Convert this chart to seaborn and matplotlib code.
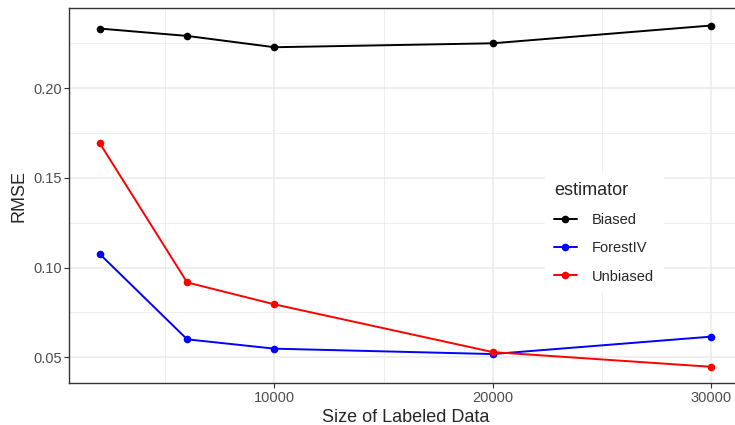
import pandas as pd
import matplotlib
matplotlib.use("Agg")
import matplotlib.pyplot as plt
import seaborn as sns
from matplotlib.ticker import MultipleLocator

sizes = [2000, 6000, 10000, 20000, 30000]
biased = [0.2332, 0.2291, 0.2228, 0.2250, 0.2349]
forestiv = [0.1075, 0.0600, 0.0548, 0.0518, 0.0615]
unbiased = [0.1692, 0.0917, 0.0795, 0.0529, 0.0447]
estimators = ["Biased", "ForestIV", "Unbiased"]

df = pd.DataFrame({
    "size": sizes * 3,
    "rmse": biased + forestiv + unbiased,
    "estimator": [e for e in estimators for _ in sizes],
})

sns.set_style("white")
plt.rcParams["font.family"] = ["Liberation Sans", "DejaVu Sans"]

fig = plt.figure(figsize=(7.35, 4.25), dpi=100)
# panel runs a bit past the right edge of the image, like the original crop
ax = fig.add_axes([69.3 / 735, 41.7 / 425, 672.2 / 735, 375 / 425])

sns.lineplot(data=df, x="size", y="rmse", hue="estimator", hue_order=estimators,
             palette=["black", "blue", "red"], marker="o", markersize=5.5,
             markeredgewidth=0, linewidth=1.4, ax=ax)

ax.set_xlim(600, 31400)
ax.set_ylim(0.0355, 0.2445)
ax.xaxis.set_minor_locator(MultipleLocator(5000))
ax.yaxis.set_minor_locator(MultipleLocator(0.025))
ax.set_xticks([10000, 20000, 30000])
ax.set_xticklabels(["10000", "20000", "30000"])
ax.set_yticks([0.05, 0.10, 0.15, 0.20])
ax.set_yticklabels(["0.05", "0.10", "0.15", "0.20"])

ax.grid(which="major", color="#EBEBEB", linewidth=1.1)
ax.grid(which="minor", color="#EBEBEB", linewidth=0.55)
ax.set_axisbelow(True)
for s in ax.spines.values():
    s.set_color("#333333")
    s.set_linewidth(1.0)
ax.tick_params(which="major", length=3.5, width=0.8, color="#333333",
               labelsize=10.5, labelcolor="#4D4D4D", bottom=True, left=True, pad=2)
ax.tick_params(which="minor", length=0)

ax.set_xlabel("Size of Labeled Data", fontsize=13, labelpad=3)
ax.set_ylabel("RMSE", fontsize=13, labelpad=4)

leg = ax.legend(title="estimator", loc="upper left", bbox_to_anchor=(0.7077, 0.561),
                frameon=True, facecolor="white", edgecolor="white", framealpha=1,
                fontsize=10.5, title_fontsize=13, handlelength=1.6, handletextpad=1.0,
                labelspacing=0.98, borderpad=0.6, borderaxespad=0)
leg._legend_box.align = "left"
leg.get_frame().set_boxstyle("square", pad=0)

fig.savefig("out.png", dpi=100)
